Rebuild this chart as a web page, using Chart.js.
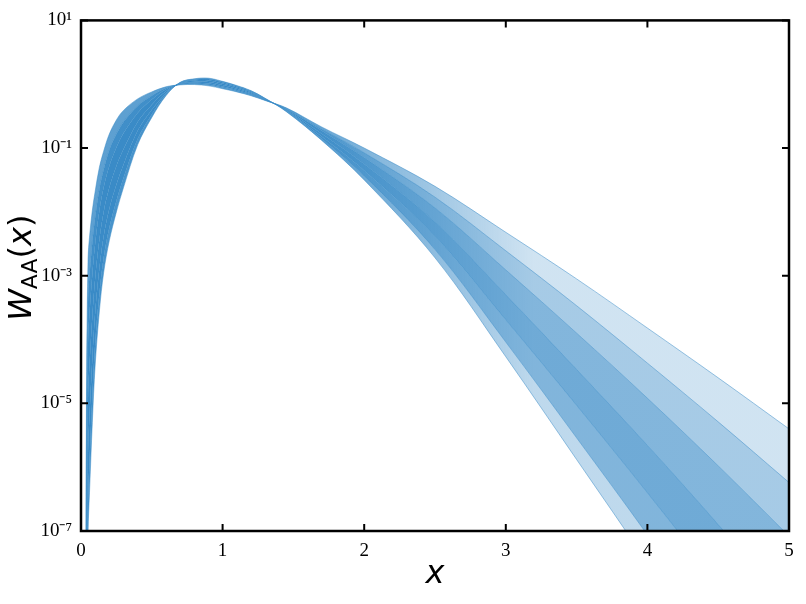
<!DOCTYPE html>
<html>
<head>
<meta charset="utf-8">
<script src="https://cdn.jsdelivr.net/npm/chart.js@4.4.1/dist/chart.umd.min.js"></script>
<style>
  html, body { margin: 0; padding: 0; background: #fff; }
  #wrap { width: 806px; height: 604px; }
</style>
</head>
<body>
<div id="wrap"><canvas id="chart" width="806" height="604"></canvas></div>
<script>
// sample positions along x
const xs = [0.035, 0.04, 0.05, 0.06, 0.08, 0.1, 0.13, 0.16, 0.2, 0.25, 0.3, 0.4, 0.5, 0.6, 0.7,
            0.8, 0.9, 1.0, 1.1, 1.2, 1.3, 1.45, 1.7, 2.0, 2.5, 3.0, 3.5, 4.0, 4.5, 5.0];

// log10 W_AA(x), broadest curve first, narrowest last
const curve0 = [-7.5, -4.5, -2.72, -2.4, -1.98, -1.68, -1.3, -1.05, -0.78, -0.56, -0.41, -0.23, -0.12, -0.04, -0.01,
                -0.005, -0.025, -0.07, -0.12, -0.18, -0.255, -0.37, -0.67, -1.0, -1.6, -2.32, -3.05, -3.82, -4.6, -5.4];
const curve1 = [-8.0, -5.2, -3.36, -3.0, -2.48, -2.09, -1.64, -1.34, -1.03, -0.78, -0.59, -0.34, -0.18, -0.06, -0.004,
                0.009, -0.007, -0.053, -0.105, -0.168, -0.25, -0.38, -0.7, -1.075, -1.77, -2.61, -3.47, -4.37, -5.29, -6.24];
const curve2 = [-8.4, -5.85, -4.0, -3.6, -2.98, -2.5, -1.98, -1.62, -1.28, -0.99, -0.77, -0.45, -0.24, -0.08, 0.002,
                0.022, 0.011, -0.036, -0.09, -0.156, -0.245, -0.39, -0.73, -1.15, -1.94, -2.91, -3.9, -4.92, -5.98, -7.08];
const curve3 = [-8.9, -6.75, -4.86, -4.4, -3.64, -3.04, -2.43, -2.0, -1.62, -1.28, -1.02, -0.59, -0.32, -0.11, 0.01,
                0.04, 0.035, -0.013, -0.07, -0.14, -0.238, -0.4, -0.775, -1.25, -2.16, -3.3, -4.47, -5.66, -6.9, -8.2];
const curve4 = [-9.3, -7.65, -5.72, -5.2, -4.3, -3.58, -2.88, -2.38, -1.95, -1.57, -1.26, -0.73, -0.4, -0.14, 0.018,
                0.058, 0.059, 0.011, -0.05, -0.124, -0.23, -0.41, -0.82, -1.35, -2.38, -3.69, -5.03, -6.4, -7.82, -9.32];
const curve5 = [-9.7, -8.45, -6.49, -5.92, -4.9, -4.07, -3.28, -2.72, -2.25, -1.83, -1.47, -0.86, -0.47, -0.16, 0.025,
                0.074, 0.081, 0.031, -0.032, -0.11, -0.224, -0.42, -0.855, -1.44, -2.59, -4.04, -5.54, -7.06, -8.65, -10.33];
const curve6 = [-10.0, -9.0, -7.0, -6.4, -5.3, -4.4, -3.55, -2.95, -2.45, -2.0, -1.62, -0.95, -0.52, -0.18, 0.03,
                0.085, 0.095, 0.045, -0.02, -0.1, -0.22, -0.43, -0.88, -1.5, -2.72, -4.27, -5.88, -7.5, -9.2, -11.0];

const xTicks = [0, 1, 2, 3, 4, 5];
const yTicks = [1e-7, 1e-5, 1e-3, 1e-1, 1e1];
const yTickLabels = ['10⁻⁷', '10⁻⁵', '10⁻³', '10⁻¹', '10¹'];

const curves = [curve0, curve1, curve2, curve3, curve4, curve5, curve6];
// how dense the fill under each curve (down to the previous one) looks: near the peak / out in the tail
const alphaNear = [0, 0.82, 0.97, 1, 1, 1, 0.92];
const alphaTail = [0, 0.24, 0.45, 0.63, 0.73, 0.64, 0.33];
const blue = '58,139,199';

function bandFill(i) {
  return (c) => {
    const chart = c.chart;
    if (!chart.chartArea) return 'rgba(' + blue + ',' + alphaTail[i] + ')';
    const sx = chart.scales.x;
    const g = chart.ctx.createLinearGradient(sx.getPixelForValue(1.5), 0, sx.getPixelForValue(3.2), 0);
    g.addColorStop(0, 'rgba(' + blue + ',' + alphaNear[i] + ')');
    g.addColorStop(1, 'rgba(' + blue + ',' + alphaTail[i] + ')');
    return g;
  };
}

const datasets = curves.map((c, i) => ({
  data: xs.map((x, j) => ({ x: x, y: Math.pow(10, c[j]) })),
  borderColor: 'rgba(' + blue + ',0.5)',
  borderWidth: 1,
  pointRadius: 0,
  tension: 0.35,
  fill: i === 0 ? false : '-1',
  backgroundColor: bandFill(i)
}));

const frame = {
  id: 'frame',
  afterDraw(chart) {
    const { ctx, chartArea: a, scales } = chart;
    ctx.save();
    ctx.strokeStyle = '#000';
    ctx.lineWidth = 2;
    ctx.beginPath();
    xTicks.forEach(v => {
      const px = scales.x.getPixelForValue(v);
      ctx.moveTo(px, a.bottom); ctx.lineTo(px, a.bottom - 7);
      ctx.moveTo(px, a.top); ctx.lineTo(px, a.top + 7);
    });
    yTicks.forEach(v => {
      const py = scales.y.getPixelForValue(v);
      ctx.moveTo(a.left, py); ctx.lineTo(a.left + 7, py);
      ctx.moveTo(a.right, py); ctx.lineTo(a.right - 7, py);
    });
    ctx.stroke();
    ctx.lineWidth = 2.5;
    ctx.strokeRect(a.left, a.top, a.width, a.height);

    // y title W_AA(x)
    ctx.translate(31, (a.top + a.bottom) / 2 - 8);
    ctx.rotate(-Math.PI / 2);
    ctx.fillStyle = '#000';
    ctx.textBaseline = 'alphabetic';
    const big = '32px "DejaVu Sans"', bigIt = 'italic 32px "DejaVu Sans"', sub = '22px "DejaVu Sans"';
    const parts = [['W', bigIt, 0], ['AA', sub, 6], ['(', big, 0], ['x', bigIt, 0], [')', big, 0]];
    let w = 0;
    parts.forEach(p => { ctx.font = p[1]; w += ctx.measureText(p[0]).width; });
    let x = -w / 2;
    parts.forEach(p => {
      ctx.font = p[1];
      ctx.fillText(p[0], x, p[2]);
      x += ctx.measureText(p[0]).width;
    });
    ctx.restore();
  }
};

new Chart(document.getElementById('chart'), {
  type: 'line',
  data: { datasets: datasets },
  options: {
    responsive: false,
    animation: false,
    events: [],
    layout: { padding: { top: 18, right: 17, bottom: 0, left: 0 } },
    plugins: { legend: { display: false }, tooltip: { enabled: false } },
    scales: {
      x: {
        type: 'linear', min: 0, max: 5,
        afterFit: s => { s.height = 73; },
        afterBuildTicks: s => { s.ticks = xTicks.map(v => ({ value: v })); },
        grid: { display: false, drawTicks: false },
        border: { display: false },
        ticks: { padding: 9, color: '#000', font: { family: '"Liberation Serif"', size: 19 } },
        title: { display: true, text: 'x', color: '#000', padding: { top: 0, bottom: 10 },
                 font: { family: '"DejaVu Sans"', style: 'italic', size: 32 } }
      },
      y: {
        type: 'logarithmic', min: 1e-7, max: 10,
        afterFit: s => { s.width = 81; },
        afterBuildTicks: s => { s.ticks = yTicks.map(v => ({ value: v })); },
        grid: { display: false, drawTicks: false },
        border: { display: false },
        ticks: {
          padding: 9, color: '#000', font: { family: '"Liberation Serif"', size: 19 },
          callback: v => yTickLabels[yTicks.indexOf(v)]
        }
      }
    }
  },
  plugins: [frame]
});
</script>
</body>
</html>
